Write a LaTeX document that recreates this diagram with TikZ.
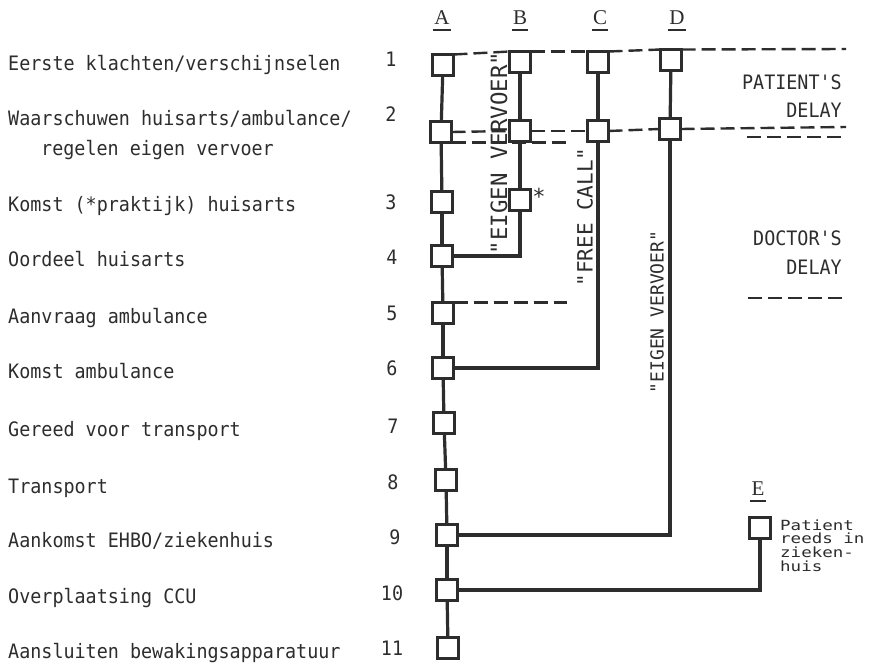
\documentclass[tikz,border=0pt]{standalone}
\usepackage{fontspec}
\newfontfamily\tw{DejaVu Sans Mono}
\newfontfamily\hd{Liberation Serif}
\definecolor{ink}{RGB}{45,45,45}
\newcommand\mytxt[1]{\scalebox{1}[1.08]{#1}}
\tikzset{
  box/.style={draw=ink, fill=white, line width=2.5pt, minimum size=18.5pt, inner sep=0pt},
  linkline/.style={draw=ink, line width=3.2pt, line cap=butt},
  dl/.style={draw=ink, line width=2.4pt, dash pattern=on 14pt off 6pt},
  lbl/.style={font=\tw\fontsize{18.4}{20}\selectfont, text=ink, inner sep=0pt, anchor=base west},
  num/.style={font=\tw\fontsize{18.4}{20}\selectfont, text=ink, inner sep=0pt, anchor=base},
  rt/.style={font=\tw\fontsize{18.4}{20}\selectfont, text=ink, inner sep=0pt, anchor=base east},
  vtext/.style={text=ink, inner sep=0pt, rotate=90},
  hdr/.style={font=\hd\fontsize{21}{22}\selectfont, text=ink, inner sep=0pt, anchor=base},
  ul/.style={draw=ink, line width=2pt},
}
\begin{document}
\begin{tikzpicture}[x=1pt,y=-1pt]
\useasboundingbox[fill=white] (0,0) rectangle (876,664);

% row labels
\node[lbl] (t1) at (8,70) {\mytxt{Eerste klachten/verschijnselen}};
\node[lbl] (t2) at (8,125) {\mytxt{Waarschuwen huisarts/ambulance/}};
\node[lbl] (t2b) at (41,155) {\mytxt{regelen eigen vervoer}};
\node[lbl] (t3) at (8,211) {\mytxt{Komst (*praktijk) huisarts}};
\node[lbl] (t4) at (8,266) {\mytxt{Oordeel huisarts}};
\node[lbl] (t5) at (8,323) {\mytxt{Aanvraag ambulance}};
\node[lbl] (t6) at (8,378) {\mytxt{Komst ambulance}};
\node[lbl] (t7) at (8,436) {\mytxt{Gereed voor transport}};
\node[lbl] (t8) at (8,493) {\mytxt{Transport}};
\node[lbl] (t9) at (8,547) {\mytxt{Aankomst EHBO/ziekenhuis}};
\node[lbl] (t10) at (8,603) {\mytxt{Overplaatsing CCU}};
\node[lbl] (t11) at (8,658) {\mytxt{Aansluiten bewakingsapparatuur}};

% numbers
\node[num] (n1) at (391,66) {\mytxt{1}};
\node[num] (n2) at (391,121) {\mytxt{2}};
\node[num] (n3) at (391,209) {\mytxt{3}};
\node[num] (n4) at (392,264) {\mytxt{4}};
\node[num] (n5) at (392,320) {\mytxt{5}};
\node[num] (n6) at (392,375) {\mytxt{6}};
\node[num] (n7) at (393,433) {\mytxt{7}};
\node[num] (n8) at (393,489) {\mytxt{8}};
\node[num] (n9) at (395,544) {\mytxt{9}};
\node[num] (n10) at (392,600) {\mytxt{10}};
\node[num] (n11) at (392,655) {\mytxt{11}};

% column headers
\node[hdr] (ha) at (442,24) {A};
\node[hdr] (hb) at (520,24) {B};
\node[hdr] (hc) at (600,24) {C};
\node[hdr] (hd) at (677,24) {D};
\node[hdr] (he) at (758,495) {E};
\foreach \h in {ha,hb,hc,hd,he}
  \draw[ul] ([xshift=-1pt,yshift=-6pt]\h.south west) -- ([xshift=1pt,yshift=-6pt]\h.south east);

% coordinates for free dashed ends
\coordinate (r1) at (846,49);
\coordinate (r2) at (846,127);
\coordinate (r2s) at (568,143);
\coordinate (r2a) at (747,137);
\coordinate (r2b) at (846,137);
\coordinate (r5) at (567,304);
\coordinate (dda) at (748,298);
\coordinate (ddb) at (846,298);

% boxes
\path
  (443,65) node[box] (a1) {}
  (441,132) node[box] (a2) {}
  (442,202) node[box] (a3) {}
  (442,256) node[box] (a4) {}
  (443,313) node[box] (a5) {}
  (443,368) node[box] (a6) {}
  (444,423) node[box] (a7) {}
  (446,480) node[box] (a8) {}
  (447,535) node[box] (a9) {}
  (447,590) node[box] (a10) {}
  (448,648) node[box] (a11) {}
  (520,62) node[box] (b1) {}
  (520,131) node[box] (b2) {}
  (520,200) node[box] (b3) {}
  (598,62) node[box] (c1) {}
  (598,131) node[box] (c2) {}
  (671,60) node[box] (d1) {}
  (670,129) node[box] (d2) {}
  (760,528) node[box] (e) {};

% dashed delay lines
\draw[dl] (a1.north east) -- (b1.north west);
\draw[dl] (b1.north east) -- (c1.north west);
\draw[dl] (c1.north east) -- (d1.north west);
\draw[dl] (d1.north east) -- (r1);
\draw[dl] (a2.east) -- (b2.west);
\draw[dl] (b2.east) -- (c2.west);
\draw[dl] (c2.east) -- (d2.west);
\draw[dl] (d2.east) -- (r2);
\draw[dl] (a2.south east) -- (a2.south east -| r2s);
\draw[dl] (r2a) -- (r2b);
\draw[dl] (a5.north east) -- (a5.north east -| r5);
\draw[dl] (dda) -- (ddb);

% solid connectors
\draw[linkline] (a1) -- (a2);
\draw[linkline] (a2) -- (a3);
\draw[linkline] (a3) -- (a4);
\draw[linkline] (a4) -- (a5);
\draw[linkline] (a5) -- (a6);
\draw[linkline] (a6) -- (a7);
\draw[linkline] (a7) -- (a8);
\draw[linkline] (a8) -- (a9);
\draw[linkline] (a9) -- (a10);
\draw[linkline] (a10) -- (a11);
\draw[linkline] (b1) -- (b2);
\draw[linkline] (b2) -- (b3);
\draw[linkline] (b3.south) |- (a4.east);
\draw[linkline] (c1) -- (c2);
\draw[linkline] (c2.south) |- (a6.east);
\draw[linkline] (d1) -- (d2);
\draw[linkline] (d2.south) |- (a9.east);
\draw[linkline] (e.south) |- (a10.east);

% redraw boxes on top of lines
\foreach \b in {a1,a2,a3,a4,a5,a6,a7,a8,a9,a10,a11,b1,b2,b3,c1,c2,d1,d2,e}
  \draw[draw=ink, fill=white, line width=2.5pt] (\b.north west) rectangle (\b.south east);

% asterisk
\node[num, font=\tw\fontsize{22}{22}\selectfont] (ast) at (539,204) {*};

% vertical texts
\node[vtext, font=\tw\fontsize{22.4}{24}\selectfont] (vb) at (499,153) {"EIGEN VERVOER"};
\node[vtext, font=\tw\fontsize{21}{24}\selectfont] (vc) at (585,217) {"FREE CALL"};
\node[vtext, font=\tw\fontsize{18}{20}\selectfont] (vd) at (657,312) {"EIGEN VERVOER"};

% delay labels
\node[rt] (p1) at (842,89) {\mytxt{PATIENT'S}};
\node[rt] (p2) at (842,117) {\mytxt{DELAY}};
\node[rt] (q1) at (842,245) {\mytxt{DOCTOR'S}};
\node[rt] (q2) at (842,274) {\mytxt{DELAY}};

% E note
\node[anchor=base west, inner sep=0pt, text=ink] (enote) at (780,530)
  {\scalebox{1}[0.8]{\tw\fontsize{17.5}{13.2}\selectfont\begin{tabular}[t]{@{}l@{}}Patient\\reeds in\\zieken-\\huis\end{tabular}}};
\end{tikzpicture}
\end{document}
